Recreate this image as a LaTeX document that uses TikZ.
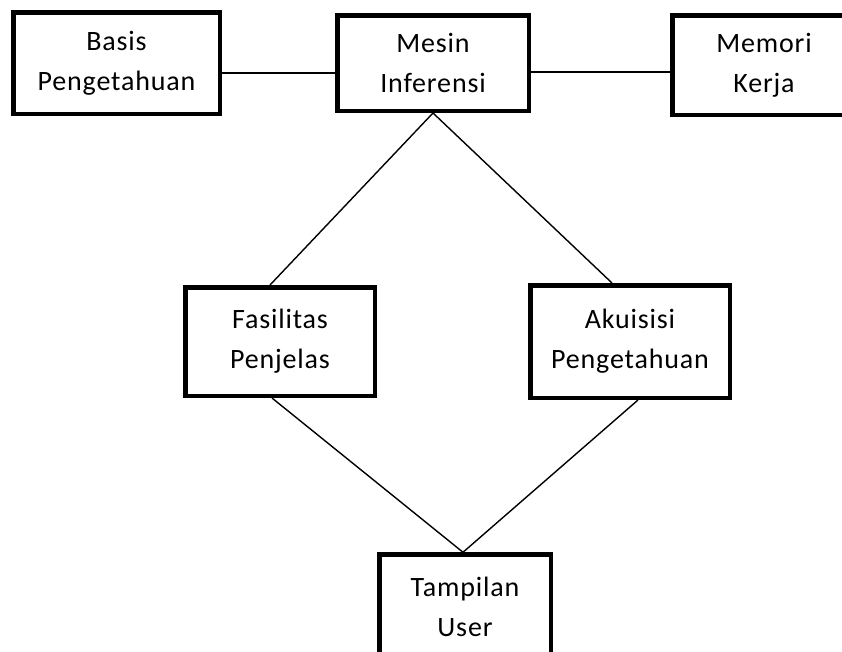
\documentclass[tikz,border=0pt]{standalone}
\usepackage{fontspec}
\setmainfont{Carlito}[LetterSpace=3]
\usepackage{tikz}
\usetikzlibrary{positioning}

\begin{document}
\begin{tikzpicture}[x=1pt,y=1pt,
    box/.style={draw,line width=4.5pt,inner sep=0pt,align=center,
      font=\fontsize{28}{40}\selectfont},
    link/.style={line width=1.4pt}]
      \useasboundingbox (0,0) rectangle (842,-651);
      \node[box,minimum width=206.5pt,minimum height=101.5pt] (basis)  at (116.5,-63) {Basis\\Pengetahuan};
      \node[box,minimum width=191.5pt,minimum height=95.5pt]  (mesin)  at (433,-63)   {Mesin\\Inferensi};
      \node[box,minimum width=183.5pt,minimum height=99.5pt]  (memori) at (764,-65)   {Memori\\Kerja};
      \node[box,minimum width=189.5pt,minimum height=108.5pt] (fasil)  at (280,-341.5) {Fasilitas\\Penjelas};
      \node[box,minimum width=199.5pt,minimum height=112.5pt] (akuis)  at (630,-341.5) {Akuisisi\\Pengetahuan};
      \node[box,minimum width=171.5pt,minimum height=105pt]   (tampil) at (465,-607)  {Tampilan\\User};

      \draw[link] ([yshift=-10pt]basis.east) -- ([yshift=-10pt]mesin.west);
      \draw[link] ([yshift=-9pt]mesin.east) -- ([yshift=-9pt]mesin.east -| memori.west);

      \draw[link] (mesin.south) -- ([xshift=-10pt]fasil.north);
      \draw[link] (mesin.south) -- ([xshift=-18pt]akuis.north);

      \draw[link] ([xshift=-8pt]fasil.south) -- ([xshift=-2pt]tampil.north);
      \draw[link] ([xshift=8pt]akuis.south) -- ([xshift=-2pt]tampil.north);
\end{tikzpicture}
\end{document}
